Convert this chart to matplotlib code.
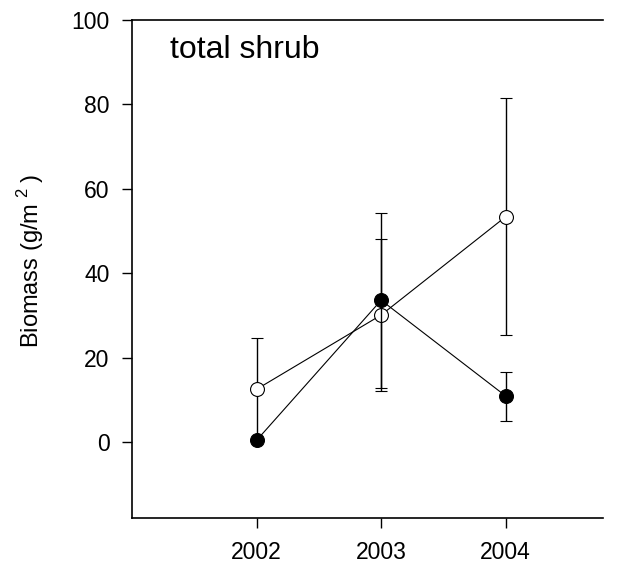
import matplotlib
matplotlib.use("Agg")
import matplotlib.pyplot as plt

years = [2002, 2003, 2004]
filled_mean = [0.4, 33.6, 10.9]
filled_err = [0.0, 20.7, 5.8]
open_mean = [12.5, 30.1, 53.4]
open_err = [12.1, 17.9, 28.0]

plt.rcParams['font.family'] = ['Liberation Sans', 'DejaVu Sans']
plt.rcParams['mathtext.fontset'] = 'custom'
plt.rcParams['mathtext.rm'] = 'Liberation Sans'

fig = plt.figure(figsize=(6.19, 5.63), dpi=100)
ax = fig.add_axes([0.2132, 0.0799, 0.974 - 0.2132, 0.9645 - 0.0799])

ax.errorbar(years, open_mean, yerr=open_err, fmt='-o', color='black', mfc='white',
            mec='black', ms=10, lw=0.8, elinewidth=1.0, capsize=4.3, capthick=1.0, mew=0.8, zorder=3)
ax.errorbar(years, filled_mean, yerr=filled_err, fmt='-o', color='black', mfc='black',
            mec='black', ms=10, lw=0.8, elinewidth=1.0, capsize=4.3, capthick=1.0, mew=0.8, zorder=4)

ax.set_xlim(2001.0, 2004.78)
ax.set_ylim(-18, 100)
ax.set_xticks(years)
ax.set_yticks([0, 20, 40, 60, 80, 100])
ax.spines['right'].set_visible(False)
for s in ['left', 'bottom', 'top']:
    ax.spines[s].set_linewidth(1.2)
ax.tick_params(direction='out', length=7, width=1.0, labelsize=16.5)
ax.tick_params(axis='y', pad=9)
ax.tick_params(axis='x', pad=9.5)
ax.set_ylabel(r'Biomass (g/m$^{\,\,\mathrm{2}\,\,}$)', fontsize=17)
ax.yaxis.set_label_coords(-0.183, 0.515)
ax.text(170, 563 - 58, 'total shrub', transform=None, fontsize=23, va='baseline', ha='left')

fig.savefig('out.png', dpi=100)
